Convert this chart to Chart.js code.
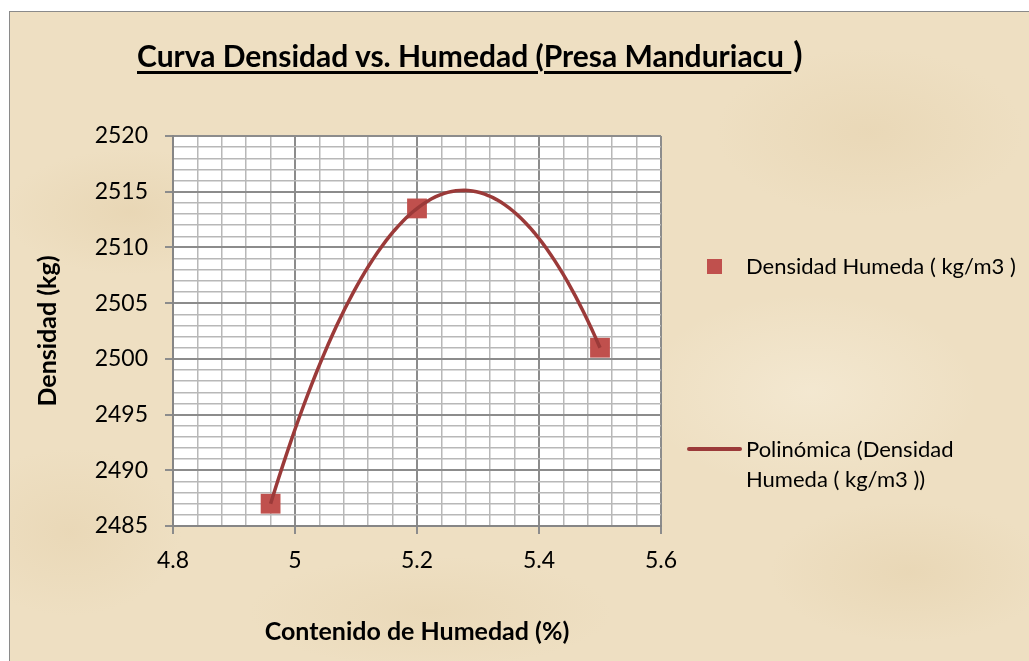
<!DOCTYPE html>
<html>
<head>
<meta charset="utf-8">
<script src="https://cdn.jsdelivr.net/npm/chart.js@4.4.1/dist/chart.umd.min.js"></script>
<style>
    html, body { margin: 0; padding: 0; background: #fff; }
    #wrap { position: relative; width: 1029px; height: 661px; overflow: hidden; font-family: Lato, sans-serif; }
    #papel {
        position: absolute; left: 9px; top: 11px; width: 1040px; height: 670px;
        border: 1px solid #8a8a8a;
        background:
            radial-gradient(ellipse 180px 90px at 120px 200px, rgba(220,196,152,0.30), rgba(220,196,152,0) 70%),
            radial-gradient(ellipse 220px 120px at 860px 120px, rgba(220,196,152,0.25), rgba(220,196,152,0) 70%),
            radial-gradient(ellipse 200px 100px at 900px 560px, rgba(220,196,152,0.28), rgba(220,196,152,0) 70%),
            radial-gradient(ellipse 260px 80px at 420px 600px, rgba(220,196,152,0.22), rgba(220,196,152,0) 70%),
            radial-gradient(ellipse 160px 120px at 60px 520px, rgba(220,196,152,0.25), rgba(220,196,152,0) 70%),
            radial-gradient(ellipse 240px 140px at 800px 380px, rgba(248,240,222,0.5), rgba(248,240,222,0) 70%),
            #eedfc2;
    }
    #myChart { position: absolute; left: 0; top: 0; }
    #titulo {
        position: absolute; left: 137px; top: 33px; white-space: nowrap;
        font-weight: bold; font-size: 30px; color: #000;
    }
    #titulo u { text-decoration-thickness: 3px; text-underline-offset: 4px; }
    #titulo .par { font-size: 34px; margin-left: 2px; }
    .leyenda { position: absolute; font-size: 22px; color: #000; line-height: 30px; }
    .marca { position: absolute; }
</style>
</head>
<body>
<div id="wrap">
    <div id="papel"></div>
    <canvas id="myChart" width="1029" height="661"></canvas>
    <div id="titulo"><u>Curva Densidad vs. Humedad (Presa Manduriacu </u><span class="par">)</span></div>
    <div class="marca" style="left:707px; top:259px; width:15px; height:15px; background:#C0504D;"></div>
    <div class="leyenda" id="ley1" style="left:746px; top:251px;"></div>
    <div class="marca" style="left:687px; top:447px; width:55px; height:4px; border-radius:2px; background:#9B3A39;"></div>
    <div class="leyenda" id="ley2" style="left:746px; top:434px; width:270px;"></div>
</div>
<script>
// datos
const humedad = [4.96, 5.2, 5.5];
const densidad = [2487, 2513.5, 2501];
const serieNombre = 'Densidad Humeda ( kg/m3 )';
const tendenciaNombre = 'Polinómica (Densidad Humeda ( kg/m3 ))';

const xTicks = [4.8, 5, 5.2, 5.4, 5.6];
const yTicks = [2485, 2490, 2495, 2500, 2505, 2510, 2515, 2520];

// ajuste polinomico de grado 2 (minimos cuadrados), como la linea de tendencia de Excel
function ajusteCuadratico(xs, ys) {
    let s = [0, 0, 0, 0, 0], t = [0, 0, 0];
    for (let i = 0; i < xs.length; i++) {
        const x = xs[i] - 5, y = ys[i];
        for (let k = 0; k < 5; k++) s[k] += Math.pow(x, k);
        for (let k = 0; k < 3; k++) t[k] += y * Math.pow(x, k);
    }
    // resolver sistema 3x3 (Cramer)
    const m = [[s[0], s[1], s[2]], [s[1], s[2], s[3]], [s[2], s[3], s[4]]];
    const det = a => a[0][0] * (a[1][1] * a[2][2] - a[1][2] * a[2][1])
        - a[0][1] * (a[1][0] * a[2][2] - a[1][2] * a[2][0])
        + a[0][2] * (a[1][0] * a[2][1] - a[1][1] * a[2][0]);
    const d = det(m);
    const coef = [0, 1, 2].map(c => det(m.map((fila, r) => fila.map((v, j) => j === c ? t[r] : v))) / d);
    return x => coef[0] + coef[1] * (x - 5) + coef[2] * (x - 5) * (x - 5);
}

const poli = ajusteCuadratico(humedad, densidad);
const xMin = Math.min(...humedad), xMax = Math.max(...humedad);
const curva = [];
for (let i = 0; i <= 80; i++) {
    const x = xMin + (xMax - xMin) * i / 80;
    curva.push({ x: x, y: poli(x) });
}

document.getElementById('ley1').textContent = serieNombre;
document.getElementById('ley2').textContent = tendenciaNombre;

const esMayor = (lista, v) => lista.some(t => Math.abs(t - v) < 1e-6);

const fondoBlanco = {
    id: 'fondoBlanco',
    beforeDraw(chart) {
        const { ctx, chartArea: a } = chart;
        ctx.save();
        ctx.fillStyle = '#ffffff';
        ctx.fillRect(a.left, a.top, a.right - a.left, a.bottom - a.top);
        ctx.restore();
    }
};

const fuenteTicks = { family: 'Lato', size: 23 };
const fuenteTitulo = { family: 'Lato', size: 25, weight: 'bold' };

const config = {
    type: 'scatter',
    data: {
        datasets: [{
            label: tendenciaNombre,
            data: curva,
            type: 'line',
            borderColor: '#9B3A39',
            borderWidth: 3.5,
            pointRadius: 0,
            fill: false,
            order: 0
        }, {
            label: serieNombre,
            data: humedad.map((x, i) => ({ x: x, y: densidad[i] })),
            backgroundColor: '#C0504D',
            borderWidth: 0,
            pointStyle: 'rect',
            pointRadius: 14,
            pointHoverRadius: 14,
            order: 1
        }]
    },
    options: {
        responsive: false,
        animation: false,
        layout: { padding: { left: 0, top: 136, right: 368, bottom: 0 } },
        plugins: {
            legend: { display: false },
            tooltip: { enabled: false }
        },
        scales: {
            x: {
                type: 'linear',
                min: 4.8,
                max: 5.6,
                afterFit: s => { s.height = 135; },
                ticks: {
                    stepSize: 0.04,
                    autoSkip: false,
                    maxRotation: 0,
                    padding: 13,
                    color: '#000',
                    font: fuenteTicks,
                    callback: v => esMayor(xTicks, v) ? String(xTicks.find(t => Math.abs(t - v) < 1e-6)) : ''
                },
                grid: {
                    color: c => esMayor(xTicks, c.tick.value) ? '#8c8c8c' : '#b8b8b8',
                    lineWidth: c => esMayor(xTicks, c.tick.value) ? 2 : 1.5,
                    tickColor: c => esMayor(xTicks, c.tick.value) ? '#8c8c8c' : 'rgba(0,0,0,0)',
                    tickLength: 8
                },
                border: { color: '#868686', width: 2 },
                title: {
                    display: true,
                    text: 'Contenido de Humedad (%)',
                    color: '#000',
                    font: fuenteTitulo,
                    padding: { top: 0, bottom: 14 }
                }
            },
            y: {
                type: 'linear',
                min: 2485,
                max: 2520,
                afterFit: s => { s.width = 173; },
                ticks: {
                    stepSize: 1,
                    autoSkip: false,
                    padding: 17,
                    color: '#000',
                    font: fuenteTicks,
                    callback: v => esMayor(yTicks, v) ? String(v) : ''
                },
                grid: {
                    color: c => esMayor(yTicks, c.tick.value) ? '#8c8c8c' : '#b8b8b8',
                    lineWidth: c => esMayor(yTicks, c.tick.value) ? 2 : 1.5,
                    tickColor: c => esMayor(yTicks, c.tick.value) ? '#8c8c8c' : 'rgba(0,0,0,0)',
                    tickLength: 8
                },
                border: { color: '#868686', width: 2 },
                title: {
                    display: true,
                    text: 'Densidad (kg)',
                    color: '#000',
                    font: fuenteTitulo,
                    padding: { top: 33, bottom: 0 }
                }
            }
        }
    },
    plugins: [fondoBlanco]
};

const myChart = new Chart(document.getElementById('myChart'), config);
</script>
</body>
</html>
